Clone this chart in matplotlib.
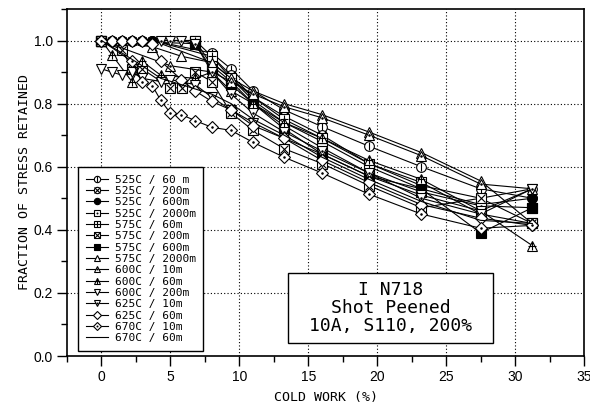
import numpy as np
import matplotlib.pyplot as plt
from matplotlib.patches import Rectangle

# cold work (%) and fraction of stress retained
x_525_60 = [0, 0.75, 1.5, 2.2, 2.95, 3.7, 8.0, 9.4, 11.0, 13.25, 16.0, 19.4, 23.2, 27.5, 31.25]
y_525_60 = [1, 1, 1, 1, 1, 1, 0.96, 0.91, 0.84, 0.78, 0.727, 0.665, 0.60, 0.53, 0.50]
x_525_200 = [0, 0.75, 1.5, 2.2, 2.95, 3.7, 8.0, 9.4, 11.0, 13.25, 16.0, 19.4, 23.2, 27.5, 31.25]
y_525_200 = [1, 1, 1, 1, 1, 1, 0.95, 0.89, 0.82, 0.76, 0.70, 0.61, 0.54, 0.50, 0.53]
x_525_600 = [0, 0.75, 1.5, 2.2, 2.95, 3.7, 8.0, 9.4, 11.0, 13.25, 16.0, 19.4, 23.2, 27.5, 31.25]
y_525_600 = [1, 1, 1, 1, 1, 1, 0.93, 0.88, 0.81, 0.74, 0.68, 0.60, 0.53, 0.48, 0.50]
x_525_2000 = [0, 6.8, 8.0, 9.4, 11.0, 13.25, 16.0, 19.4, 23.2, 27.5, 31.25]
y_525_2000 = [1, 1, 0.92, 0.87, 0.80, 0.73, 0.66, 0.58, 0.52, 0.476, 0.47]
x_575_60 = [0, 6.8, 8.0, 9.4, 11.0, 13.25, 16.0, 19.4, 23.2, 27.5, 31.25]
y_575_60 = [1, 1, 0.95, 0.88, 0.82, 0.75, 0.69, 0.61, 0.55, 0.45, 0.42]
x_575_200 = [0, 1.5, 2.2, 2.95, 5.0, 5.85, 6.8, 8.0, 9.4, 11.0, 13.25, 16.0, 19.4, 23.2, 27.5, 31.25]
y_575_200 = [1, 0.97, 0.91, 0.91, 0.85, 0.85, 0.90, 0.87, 0.77, 0.715, 0.657, 0.61, 0.54, 0.47, 0.50, 0.42]
x_575_600 = [0, 6.8, 8.0, 9.4, 11.0, 13.25, 16.0, 19.4, 23.2, 27.5, 31.25]
y_575_600 = [1, 0.99, 0.91, 0.86, 0.80, 0.72, 0.64, 0.57, 0.53, 0.39, 0.47]
x_575_2000 = [0, 3.7, 5.8, 8.0, 9.4, 11.0, 13.25, 16.0, 19.4, 23.2, 27.5, 31.25]
y_575_2000 = [1, 0.98, 0.95, 0.93, 0.88, 0.84, 0.80, 0.765, 0.71, 0.645, 0.555, 0.42]
x_600_10 = [0, 5.0, 8.0, 9.4, 11.0, 13.25, 16.0, 19.4, 23.2, 27.5, 31.25]
y_600_10 = [1, 0.92, 0.90, 0.87, 0.83, 0.79, 0.755, 0.70, 0.635, 0.545, 0.53]
x_600_60 = [0, 0.75, 2.2, 2.95, 4.3, 6.8, 8.0, 9.4, 11.0, 13.25, 16.0, 19.4, 23.2, 27.5, 31.25]
y_600_60 = [1, 0.955, 0.87, 0.934, 0.89, 0.88, 0.90, 0.84, 0.80, 0.74, 0.69, 0.62, 0.56, 0.46, 0.35]
x_600_200 = [0, 0.75, 1.5, 2.2, 2.95, 4.3, 5.0, 6.8, 8.0, 9.4, 11.0, 13.25, 16.0, 19.4, 23.2, 27.5, 31.25]
y_600_200 = [0.91, 0.90, 0.89, 0.90, 0.88, 0.87, 0.876, 0.86, 0.82, 0.78, 0.74, 0.69, 0.64, 0.57, 0.51, 0.46, 0.53]
x_625_10 = [0, 4.3, 5.0, 5.8, 6.8, 8.0, 9.4, 11.0, 13.25, 16.0, 19.4, 23.2, 27.5, 31.25]
y_625_10 = [1, 1, 1, 1, 0.99, 0.90, 0.83, 0.77, 0.71, 0.65, 0.58, 0.50, 0.45, 0.53]
x_625_60 = [0, 0.75, 1.5, 2.2, 2.95, 3.7, 4.3, 5.8, 6.8, 8.0, 9.4, 11.0, 13.25, 16.0, 19.4, 23.2, 27.5, 31.25]
y_625_60 = [1, 1, 1, 1, 1, 0.99, 0.934, 0.876, 0.84, 0.807, 0.78, 0.73, 0.69, 0.62, 0.55, 0.48, 0.437, 0.414]
x_670_10 = [0, 2.2, 2.95, 3.7, 4.3, 5.0, 5.8, 6.8, 8.0, 9.4, 11.0, 13.25, 16.0, 19.4, 23.2, 27.5, 31.25]
y_670_10 = [1, 0.934, 0.87, 0.856, 0.81, 0.77, 0.765, 0.746, 0.725, 0.715, 0.677, 0.63, 0.58, 0.513, 0.45, 0.405, 0.414]
x_670_60 = [0, 1.5, 2.95, 4.3, 5.8, 8.0, 9.4, 11.0, 13.25, 16.0, 19.4, 23.2, 27.5, 31.25]
y_670_60 = [1, 0.96, 0.92, 0.88, 0.86, 0.83, 0.80, 0.75, 0.70, 0.63, 0.56, 0.49, 0.43, 0.42]

labels = ['525C / 60 m', '525C / 200m', '525C / 600m', '525C / 2000m',
          '575C / 60m', '575C / 200m', '575C / 600m', '575C / 2000m',
          '600C / 10m', '600C / 60m', '600C / 200m', '625C / 10m',
          '625C / 60m', '670C / 10m', '670C / 60m']
xs = [x_525_60, x_525_200, x_525_600, x_525_2000, x_575_60, x_575_200, x_575_600,
      x_575_2000, x_600_10, x_600_60, x_600_200, x_625_10, x_625_60, x_670_10, x_670_60]
ys = [y_525_60, y_525_200, y_525_600, y_525_2000, y_575_60, y_575_200, y_575_600,
      y_575_2000, y_600_10, y_600_60, y_600_200, y_625_10, y_625_60, y_670_10, y_670_60]

# (base marker, filled, overlay marker)
styles = [('o', False, '|'), ('o', False, 'x'), ('o', True, None), ('s', False, '.'),
          ('s', False, '+'), ('s', False, 'x'), ('s', True, None), ('^', False, None),
          ('^', False, '.'), ('^', False, '+'), ('v', False, None), ('v', False, '.'),
          ('D', False, None), ('D', False, '.'), (None, False, None)]

mono = 'DejaVu Sans Mono'
plt.rcParams['font.family'] = ['Liberation Sans', 'DejaVu Sans']

fig = plt.figure(figsize=(5.9, 4.07), dpi=100)
ax = fig.add_axes([0.1136, 0.1253, 0.8762, 0.8527])

handles = []
for x, y, (m, filled, ov) in zip(xs, ys, styles):
    ms = 7 if m != 'D' else 6
    line, = ax.plot(x, y, color='black', lw=0.8, marker=m, ms=ms, mew=0.8,
                    mfc='black' if filled else 'white', mec='black', zorder=3)
    if ov is not None:
        ovs = 2.0 if ov == '.' else ms * 0.8
        top, = ax.plot(x, y, ls='none', marker=ov, ms=ovs, mew=0.8, color='black', zorder=3)
        handles.append((line, top))
    else:
        handles.append(line)

ax.set_xlim(-2.5, 35)
ax.set_ylim(0, 1.1)
ax.set_xticks(np.arange(0, 36, 5))
ax.set_xticks(np.arange(-2.5, 35.1, 2.5), minor=True)
ax.set_yticks(np.arange(0, 1.01, 0.2))
ax.set_yticks(np.arange(0, 1.11, 0.1), minor=True)
ax.set_yticklabels([f'{v:.1f}' for v in np.arange(0, 1.01, 0.2)])
ax.tick_params(which='major', direction='out', length=7, width=1, labelsize=10, pad=3)
ax.tick_params(which='minor', direction='out', length=4, width=1)
ax.grid(True, which='major', ls=(0, (1, 2)), color='black', lw=0.8)
ax.set_axisbelow(True)
for s in ax.spines.values():
    s.set_linewidth(1.2)

ax.set_xlabel('COLD WORK (%)', family=mono, fontsize=9.5, labelpad=5)
ax.set_ylabel('FRACTION OF STRESS RETAINED', family=mono, fontsize=9.5, labelpad=2)

leg = ax.legend(handles, labels, loc='lower left', bbox_to_anchor=(0.021, 0.014),
                borderaxespad=0, prop={'family': mono, 'size': 8}, markerscale=0.65,
                labelspacing=0.12, handlelength=2.0, handletextpad=0.6,
                borderpad=0.7, fancybox=False, framealpha=1, edgecolor='black')
leg.get_frame().set_linewidth(1.0)
leg.set_zorder(6)

ax.add_patch(Rectangle((13.55, 0.041), 14.85, 0.222, facecolor='white',
                       edgecolor='black', lw=1.0, zorder=6))
ax.text(20.97, 0.152, 'I N718\nShot Peened\n10A, S110, 200%', ha='center', va='center',
        family=mono, fontsize=13, linespacing=1.0, zorder=7)

fig.savefig('out.png', dpi=100)
